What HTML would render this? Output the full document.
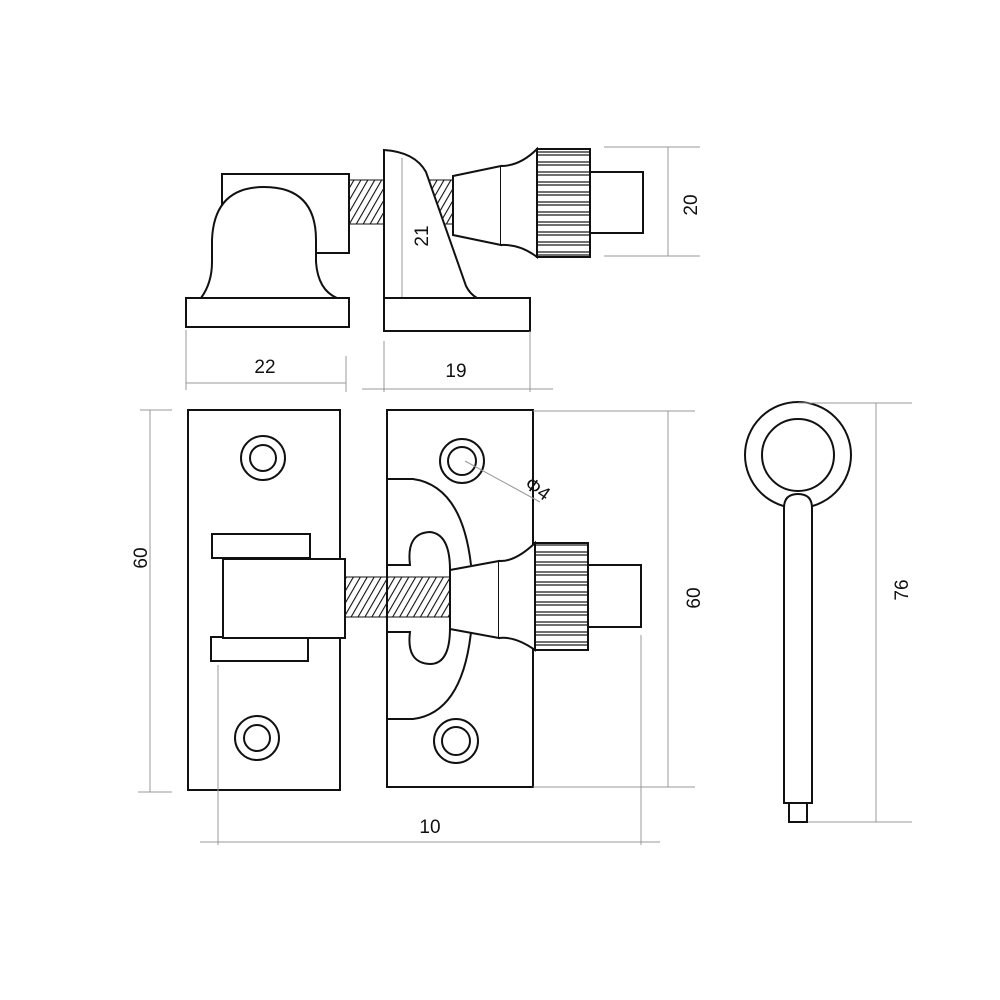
<!DOCTYPE html>
<html><head><meta charset="utf-8"><style>
html,body{margin:0;padding:0;background:#fff}
svg{display:block}
text{font-family:"Liberation Sans",sans-serif;font-size:19px;fill:#111}
</style></head><body>
<svg width="1000" height="1000" viewBox="0 0 1000 1000" xmlns="http://www.w3.org/2000/svg">
<defs>
<pattern id="hatch" width="6" height="6" patternUnits="userSpaceOnUse" patternTransform="rotate(30)">
<line x1="0" y1="0" x2="0" y2="6" stroke="#111" stroke-width="2.2"/>
</pattern>
<pattern id="knurl" width="10" height="10" patternUnits="userSpaceOnUse" y="0">
<line x1="0" y1="2" x2="10" y2="2" stroke="#222" stroke-width="1.3"/>
<line x1="0" y1="5" x2="10" y2="5" stroke="#222" stroke-width="1.3"/>
</pattern>
</defs>
<g fill="none" stroke="#111" stroke-width="2">
<!-- TOP VIEW -->
<rect x="222" y="174" width="127" height="79" fill="#fff"/>
<path d="M201,298 Q212,283 212,262 L212,240 Q214,187 264,187 Q316,187 316,240 L316,262 Q318,290 337,298" fill="#fff"/>
<rect x="186" y="298" width="163" height="29" fill="#fff"/>
<rect x="349" y="180" width="35" height="44" fill="url(#hatch)" stroke-width="1"/>
<path d="M426,180 L453,180 L453,224 L444,224 Z" fill="url(#hatch)" stroke-width="1"/>
<path d="M384,298 L384,150 Q415,152 426,172 L466,286 Q470,294 477,298" fill="#fff"/>
<rect x="384" y="298" width="146" height="33" fill="#fff"/>
<path d="M453,176 L501,166 L501,245 L453,235 Z" fill="#fff"/>
<path d="M501,166 Q520,166 537,149 L537,257 Q520,244 501,245" fill="#fff"/>
<rect x="537" y="149" width="53" height="108" fill="url(#knurl)"/>
<rect x="590" y="172" width="53" height="61" fill="#fff"/>
<!-- FRONT LEFT -->
<rect x="188" y="410" width="152" height="380"/>
<circle cx="263" cy="458" r="22"/><circle cx="263" cy="458" r="13"/>
<circle cx="257" cy="738" r="22"/><circle cx="257" cy="738" r="13"/>
<rect x="212" y="534" width="98" height="24" fill="#fff"/>
<rect x="211" y="637" width="97" height="24" fill="#fff"/>
<rect x="223" y="559" width="122" height="79" fill="#fff"/>
<!-- FRONT RIGHT -->
<rect x="387" y="410" width="146" height="377"/>
<circle cx="462" cy="461" r="22"/><circle cx="462" cy="461" r="14"/>
<circle cx="456" cy="741" r="22"/><circle cx="456" cy="741" r="14"/>
<path d="M387,479 L413,479 Q462,486 471,565 M471,632 Q462,713 413,719 L387,719"/>
<path d="M387,565 L410,565 Q406,533 430,532 Q450,534 450,570 M450,628 Q450,664 430,664 Q406,663 410,632 L387,632"/>
<rect x="345" y="577" width="105" height="40" fill="url(#hatch)" stroke-width="1"/>
<path d="M450,570 L499,561 L499,638 L450,629 Z" fill="#fff"/>
<path d="M499,561 Q515,562 535,543 L535,650 Q515,636 499,638" fill="#fff"/>
<rect x="535" y="543" width="53" height="107" fill="url(#knurl)"/>
<rect x="588" y="565" width="53" height="62" fill="#fff"/>
<!-- KEY -->
<circle cx="798" cy="455" r="53"/>
<circle cx="798" cy="455" r="36"/>
<path d="M784,803 L784,508 Q784,494 798,494 Q812,494 812,508 L812,803 Z" fill="#fff"/>
<rect x="789" y="803" width="18" height="19"/>
</g>
<!-- DIMENSIONS -->
<g stroke="#999" stroke-width="1" fill="none">
<line x1="604" y1="147" x2="700" y2="147"/><line x1="604" y1="256" x2="700" y2="256"/><line x1="668" y1="147" x2="668" y2="256"/>
<line x1="402" y1="158" x2="402" y2="297"/>
<line x1="186" y1="330" x2="186" y2="390"/><line x1="346" y1="356" x2="346" y2="392"/><line x1="186" y1="383" x2="346" y2="383"/>
<line x1="384" y1="341" x2="384" y2="392"/><line x1="530" y1="331" x2="530" y2="392"/><line x1="362" y1="389" x2="553" y2="389"/>
<line x1="140" y1="410" x2="172" y2="410"/><line x1="138" y1="792" x2="172" y2="792"/><line x1="150" y1="410" x2="150" y2="792"/>
<line x1="533" y1="411" x2="695" y2="411"/><line x1="533" y1="787" x2="695" y2="787"/><line x1="668" y1="411" x2="668" y2="787"/>
<line x1="218" y1="665" x2="218" y2="845"/><line x1="641" y1="635" x2="641" y2="845"/><line x1="200" y1="842" x2="660" y2="842"/>
<line x1="798" y1="403" x2="912" y2="403"/><line x1="808" y1="822" x2="912" y2="822"/><line x1="876" y1="403" x2="876" y2="822"/>
<line x1="465" y1="461" x2="540" y2="502"/>
</g>
<text x="265" y="373" text-anchor="middle">22</text>
<text x="456" y="377" text-anchor="middle">19</text>
<text x="430" y="833" text-anchor="middle">10</text>
<text transform="translate(697,205) rotate(-90)" text-anchor="middle">20</text>
<text transform="translate(428,236) rotate(-90)" text-anchor="middle">21</text>
<text transform="translate(147,558) rotate(-90)" text-anchor="middle">60</text>
<text transform="translate(700,598) rotate(-90)" text-anchor="middle">60</text>
<text transform="translate(908,590) rotate(-90)" text-anchor="middle">76</text>
<text transform="translate(534,494) rotate(35)" text-anchor="middle">Φ4</text>
</svg>
</body></html>
